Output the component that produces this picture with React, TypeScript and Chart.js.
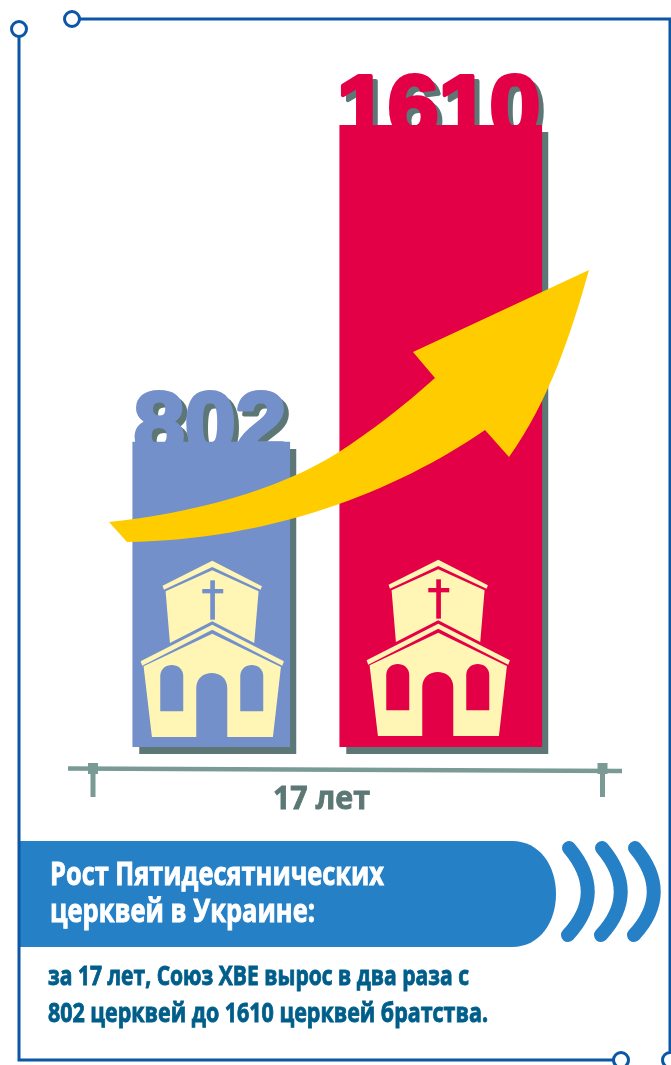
import React, { useEffect, useRef } from "react";
import { Chart, registerables } from "chart.js";

Chart.register(...registerables);

const categories = ["Начало периода", "Через 17 лет"];
const churchCounts = [802, 1610];
const barColors = ["#7490CA", "#E40046"];
const barWidths = [157, 202];
const periodLabel = "17 лет";
const bannerLines = ["Рост Пятидесятнических", "церквей в Украине:"];
const bodyLines = ["за 17 лет, Союз ХВЕ вырос в два раза с", "802 церквей до 1610 церквей братства."];

const SHADOW = "#5C7775";
const BORDER = "#0B56A5";
const CHURCH = "#FFF5B5";

function fitText(
  ctx: CanvasRenderingContext2D,
  text: string,
  x: number,
  y: number,
  w: number,
  font: string,
  color: string,
  stroke = 0.9
) {
  ctx.save();
  ctx.font = font;
  ctx.fillStyle = color;
  ctx.strokeStyle = color;
  ctx.lineWidth = stroke;
  ctx.textAlign = "left";
  ctx.textBaseline = "alphabetic";
  const m = ctx.measureText(text).width;
  ctx.translate(x, y);
  ctx.scale(w / m, 1);
  ctx.fillText(text, 0, 0);
  ctx.strokeText(text, 0, 0);
  ctx.restore();
}

function poly(ctx: CanvasRenderingContext2D, pts: number[][]) {
  ctx.beginPath();
  pts.forEach(([x, y], i) => (i ? ctx.lineTo(x, y) : ctx.moveTo(x, y)));
  ctx.closePath();
  ctx.fill();
}

function drawChurch(ctx: CanvasRenderingContext2D, cx: number, base: number, bg: string) {
  ctx.save();
  ctx.translate(cx, base);
  ctx.scale(1 / 3, 1 / 3);
  ctx.translate(-278, -592);
  ctx.fillStyle = CHURCH;
  poly(ctx, [[278, 63], [427, 140], [423, 150], [278, 82], [133, 150], [129, 138]]);
  poly(ctx, [[278, 92], [417, 155], [404, 310], [278, 245], [151, 310], [138, 155]]);
  poly(ctx, [[278, 255], [493, 365], [488, 378], [278, 270], [68, 378], [63, 365]]);
  poly(ctx, [[278, 282], [484, 382], [460, 592], [97, 592], [72, 380]]);
  ctx.fillStyle = bg;
  ctx.fillRect(272, 122, 14, 118);
  ctx.fillRect(248, 148, 63, 13);
  // door
  ctx.beginPath();
  ctx.moveTo(230, 592);
  ctx.lineTo(230, 445);
  ctx.bezierCurveTo(230, 385, 323, 385, 323, 445);
  ctx.lineTo(323, 592);
  ctx.closePath();
  ctx.fill();
  // windows
  [122, 362].forEach((wx) => {
    ctx.beginPath();
    ctx.moveTo(wx, 515);
    ctx.lineTo(wx, 410);
    ctx.bezierCurveTo(wx, 365, wx + 69, 365, wx + 69, 410);
    ctx.lineTo(wx + 69, 515);
    ctx.closePath();
    ctx.fill();
  });
  ctx.restore();
}

function ring(ctx: CanvasRenderingContext2D, x: number, y: number) {
  ctx.beginPath();
  ctx.arc(x, y, 7.5, 0, Math.PI * 2);
  ctx.fillStyle = "#fff";
  ctx.fill();
  ctx.stroke();
}

const backdrop = {
  id: "backdrop",
  beforeDatasetsDraw(chart: any) {
    const ctx: CanvasRenderingContext2D = chart.ctx;
    const bottom = chart.scales.y.bottom;
    chart.data.datasets.forEach((ds: any, di: number) => {
      const el = chart.getDatasetMeta(di).data[di];
      const left = el.x - el.width / 2;
      ctx.fillStyle = SHADOW;
      ctx.fillRect(left + 6.5, el.y + 7, el.width, bottom - el.y);
      const text = String(churchCounts[di]);
      const tx = left + (di === 0 ? 1 : -3);
      const ty = el.y + 11;
      [[5, 5, SHADOW], [0, 0, barColors[di]]].forEach(([dx, dy, col]: any) => {
        ctx.save();
        ctx.font = 'bold 88px "Liberation Sans"';
        ctx.textBaseline = "alphabetic";
        ctx.translate(tx + dx, ty + dy);
        ctx.scale(1.04, 1);
        ctx.strokeStyle = col;
        ctx.lineWidth = 4;
        ctx.lineJoin = "round";
        ctx.strokeText(text, 0, 0);
        ctx.fillStyle = col;
        ctx.fillText(text, 0, 0);
        ctx.restore();
      });
    });
  },
};

const overlay = {
  id: "overlay",
  afterDatasetsDraw(chart: any) {
    const ctx: CanvasRenderingContext2D = chart.ctx;
    const bottom = chart.scales.y.bottom;
    ctx.save();
    // churches
    const blue = chart.getDatasetMeta(0).data[0];
    const red = chart.getDatasetMeta(1).data[1];
    drawChurch(ctx, blue.x + 1, bottom - 10, barColors[0]);
    drawChurch(ctx, red.x - 2.5, bottom - 11, barColors[1]);

    // arrow
    ctx.fillStyle = "#FFCC00";
    ctx.beginPath();
    ctx.moveTo(109, 522);
    ctx.bezierCurveTo(190, 514, 280, 490, 339, 452);
    ctx.bezierCurveTo(370, 432, 405, 405, 435, 378);
    ctx.lineTo(413, 352);
    ctx.lineTo(589, 270);
    ctx.bezierCurveTo(572, 330, 550, 400, 509, 457);
    ctx.lineTo(485, 430);
    ctx.bezierCurveTo(395, 492, 270, 540, 127, 542);
    ctx.closePath();
    ctx.fill();

    // time span
    ctx.strokeStyle = "#7A9A96";
    ctx.lineWidth = 4.5;
    ctx.beginPath();
    ctx.moveTo(68, 768.5);
    ctx.lineTo(622, 771);
    ctx.stroke();
    ctx.fillStyle = "#7A9A96";
    [93, 602.5].forEach((x) => {
      ctx.fillRect(x - 5, 763, 10, 11);
      ctx.fillRect(x - 2.5, 763, 5, 34);
    });
    fitText(ctx, periodLabel, 273, 809, 97, 'bold 33px "Open Sans"', "#5C7775");

    // banner
    ctx.fillStyle = "#2680C6";
    ctx.beginPath();
    ctx.moveTo(20, 841);
    ctx.lineTo(512, 841);
    ctx.bezierCurveTo(540, 841, 556, 866, 556, 894);
    ctx.bezierCurveTo(556, 922, 540, 947, 512, 947);
    ctx.lineTo(20, 947);
    ctx.closePath();
    ctx.fill();
    ctx.strokeStyle = "#2680C6";
    ctx.lineWidth = 14;
    ctx.lineCap = "round";
    [0, 33, 66].forEach((off) => {
      ctx.beginPath();
      ctx.moveTo(569 + off, 848);
      ctx.quadraticCurveTo(607 + off, 893, 568 + off, 935);
      ctx.stroke();
    });
    ctx.lineCap = "butt";
    fitText(ctx, bannerLines[0], 50, 885, 334, 'bold 32px "Open Sans"', "#FFFFFF");
    fitText(ctx, bannerLines[1], 50, 922, 265, 'bold 32px "Open Sans"', "#FFFFFF");
    fitText(ctx, bodyLines[0], 48, 985, 421, 'bold 27px "Open Sans"', "#005E8A");
    fitText(ctx, bodyLines[1], 48, 1022, 440, 'bold 27px "Open Sans"', "#005E8A");

    // frame
    ctx.strokeStyle = BORDER;
    ctx.lineWidth = 3;
    ctx.beginPath();
    ctx.moveTo(72, 19);
    ctx.lineTo(670, 19);
    ctx.lineTo(670, 1060);
    ctx.moveTo(19, 29);
    ctx.lineTo(19, 1060);
    ctx.lineTo(620, 1060);
    ctx.stroke();
    ring(ctx, 72, 19);
    ring(ctx, 19, 29);
    ring(ctx, 621, 1060);
    ring(ctx, 670, 1060);
    ctx.restore();
  },
};

export default function App() {
  const ref = useRef<HTMLCanvasElement>(null);
  useEffect(() => {
    const chart = new Chart(ref.current!, {
      type: "bar",
      data: {
        labels: categories,
        datasets: churchCounts.map((v, i) => ({
          label: categories[i],
          data: categories.map((_, j) => (j === i ? v : null)),
          backgroundColor: barColors[i],
          barThickness: barWidths[i],
          grouped: false,
        })),
      } as any,
      options: {
        animation: false,
        responsive: false,
        layout: { padding: { left: 96.5, right: 115.5, top: 125, bottom: 318 } },
        plugins: { legend: { display: false }, tooltip: { enabled: false }, title: { display: false } },
        scales: {
          x: { display: false },
          y: { display: false, min: 24.6, max: 1610 },
        },
      },
      plugins: [backdrop, overlay],
    });
    return () => chart.destroy();
  }, []);
  return (
    <canvas
      ref={ref}
      width={671}
      height={1065}
      style={{ position: "absolute", left: 0, top: 0, width: 671, height: 1065, background: "#fff" }}
    />
  );
}
